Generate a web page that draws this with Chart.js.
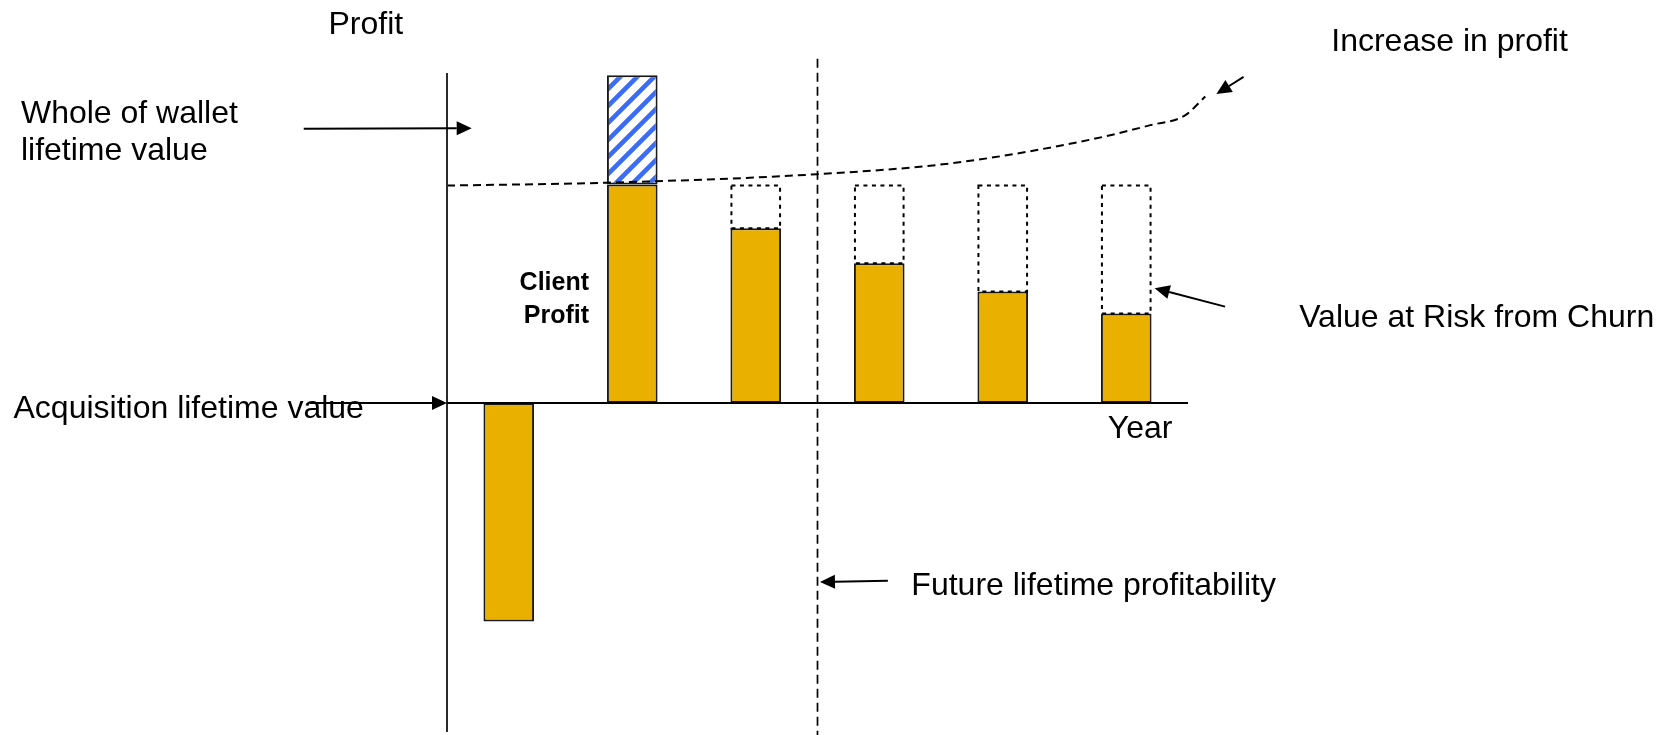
<!DOCTYPE html>
<html>
<head>
<meta charset="utf-8">
<title>Client lifetime value</title>
<script src="https://cdn.jsdelivr.net/npm/chart.js@4.4.1/dist/chart.umd.min.js"></script>
<style>
  html, body { margin: 0; padding: 0; background: #ffffff; }
  #wrap { width: 1674px; height: 735px; }
</style>
</head>
<body>
<div id="wrap"><canvas id="lifetimeChart" width="1674" height="735"></canvas></div>
<script>
// Values (one unit = first-year client profit / 100)
const periods = ['Acquisition', 'Year 1', 'Year 2', 'Year 3', 'Year 4', 'Year 5'];
const clientProfit = [-100, 100, 80, 64, 51, 41];
const walletIncrease = [null, 50, null, null, null, null];
const churnRisk = [null, null, 20, 36, 49, 59];

// whole-of-wallet curve, x in periods (-0.5 = profit axis)
const walletCurveX = [-0.5, 0.8, 2.5, 3.6, 4.7, 5.2, 5.47, 5.64];
const walletCurveY = [99.5, 100.8, 104.7, 109.8, 120.4, 127.2, 131.4, 140.2];

// boundary between past and future lifetime
const futureBoundaryX = [2.5, 2.5];
const futureBoundaryY = [157.5, -152];

const FONT = "'Liberation Sans', Arial, sans-serif";
const ORANGE = '#E9B000';

// text notes and arrows, positioned in chart units (x in periods, y in profit)
const notes = [
    { text: 'Profit', x: -1.46, y: 168.8 },
    { text: 'Whole of wallet', x: -3.95, y: 128.1 },
    { text: 'lifetime value', x: -3.95, y: 111.2 },
    { text: 'Increase in profit', x: 6.66, y: 161.1 },
    { text: 'Client', x: 0.65, y: 51.7, bold: true, align: 'right' },
    { text: 'Profit', x: 0.65, y: 36.4, bold: true, align: 'right' },
    { text: 'Value at Risk from Churn', x: 6.4, y: 34.8 },
    { text: 'Acquisition lifetime value', x: -4.01, y: -6.9 },
    { text: 'Year', x: 4.85, y: -16 },
    { text: 'Future lifetime profitability', x: 3.26, y: -87.9 }
];

const arrows = [
    { from: [-1.66, 125.5], to: [-0.3, 125.7] },
    { from: [-1.61, 0], to: [-0.5, 0] },
    { from: [3.07, -81.3], to: [2.52, -81.9] },
    { from: [5.8, 44.1], to: [5.23, 52.5] },
    { from: [5.95, 149.2], to: [5.73, 141.4] }
];

const ctx = document.getElementById('lifetimeChart').getContext('2d');

const makeStripes = () => {
    const tile = document.createElement('canvas');
    tile.width = 17;
    tile.height = 17;
    const g = tile.getContext('2d');
    g.fillStyle = '#ffffff';
    g.fillRect(0, 0, 17, 17);
    g.strokeStyle = '#3a6cf6';
    g.lineWidth = 4.6;
    g.beginPath();
    g.moveTo(-4, 21); g.lineTo(21, -4);
    g.moveTo(-4, 4); g.lineTo(4, -4);
    g.moveTo(13, 21); g.lineTo(21, 13);
    g.stroke();
    return ctx.createPattern(tile, 'repeat');
};

const toPoints = (xs, ys) => xs.map((x, i) => ({ x: x, y: ys[i] }));

const decorations = {
    id: 'decorations',
    afterDatasetsDraw(chart) {
        const c = chart.ctx;
        const area = chart.chartArea;
        const xs = chart.scales.x2;
        const ys = chart.scales.y;

        // dotted outlines for value lost to churn
        const riskMeta = chart.getDatasetMeta(3);
        c.save();
        c.strokeStyle = '#000';
        c.lineWidth = 2;
        c.setLineDash([4, 4.5]);
        riskMeta.data.forEach((bar, i) => {
            if (churnRisk[i] == null) return;
            const p = bar.getProps(['x', 'y', 'base', 'width'], true);
            c.strokeRect(p.x - p.width / 2 + 1, p.y + 1, p.width - 2, p.base - p.y - 1);
        });
        c.restore();

        // profit axis and year axis
        c.save();
        c.strokeStyle = '#2a2a2a';
        c.lineWidth = 2;
        c.beginPath();
        c.moveTo(area.left, area.top);
        c.lineTo(area.left, area.bottom - 1);
        c.stroke();
        c.strokeStyle = '#000';
        c.beginPath();
        c.moveTo(area.left, ys.getPixelForValue(0));
        c.lineTo(area.right, ys.getPixelForValue(0));
        c.stroke();
        c.restore();

        // arrows
        c.save();
        c.strokeStyle = '#000';
        c.fillStyle = '#000';
        c.lineWidth = 2;
        arrows.forEach(a => {
            const x0 = xs.getPixelForValue(a.from[0]);
            const y0 = ys.getPixelForValue(a.from[1]);
            const x1 = xs.getPixelForValue(a.to[0]);
            const y1 = ys.getPixelForValue(a.to[1]);
            const ang = Math.atan2(y1 - y0, x1 - x0);
            const len = 15, half = 7;
            const bx = x1 - len * Math.cos(ang);
            const by = y1 - len * Math.sin(ang);
            c.beginPath();
            c.moveTo(x0, y0);
            c.lineTo(bx, by);
            c.stroke();
            c.beginPath();
            c.moveTo(x1, y1);
            c.lineTo(bx + half * Math.sin(ang), by - half * Math.cos(ang));
            c.lineTo(bx - half * Math.sin(ang), by + half * Math.cos(ang));
            c.closePath();
            c.fill();
        });
        c.restore();

        // text notes
        c.save();
        c.fillStyle = '#000';
        c.textBaseline = 'alphabetic';
        notes.forEach(n => {
            c.font = n.bold ? 'bold 25px ' + FONT : '32px ' + FONT;
            c.textAlign = n.align || 'left';
            c.fillText(n.text, xs.getPixelForValue(n.x), ys.getPixelForValue(n.y));
        });
        c.restore();
    }
};

new Chart(ctx, {
    type: 'bar',
    data: {
        labels: periods,
        datasets: [
            {
                type: 'line',
                label: 'Whole of wallet lifetime value',
                data: toPoints(walletCurveX, walletCurveY),
                xAxisID: 'x2',
                stack: 'curve',
                borderColor: '#000',
                borderWidth: 2,
                borderDash: [8, 5],
                pointRadius: 0,
                cubicInterpolationMode: 'monotone',
                capBezierPoints: false,
                fill: false,
                clip: false,
                order: 0
            },
            {
                type: 'line',
                label: 'Future lifetime profitability',
                data: toPoints(futureBoundaryX, futureBoundaryY),
                xAxisID: 'x2',
                stack: 'boundary',
                borderColor: '#000',
                borderWidth: 1.7,
                borderDash: [9, 5],
                pointRadius: 0,
                fill: false,
                clip: false,
                order: 0
            },
            {
                label: 'Client profit',
                data: clientProfit,
                stack: 'profit',
                grouped: false,
                backgroundColor: ORANGE,
                borderColor: '#1a1a1a',
                borderWidth: 2,
                borderSkipped: false,
                categoryPercentage: 1,
                barPercentage: 0.41,
                order: 1
            },
            {
                label: 'Value at risk from churn',
                data: churnRisk,
                stack: 'profit',
                grouped: false,
                backgroundColor: 'rgba(0,0,0,0)',
                borderWidth: 0,
                categoryPercentage: 1,
                barPercentage: 0.41,
                order: 1
            },
            {
                label: 'Increase in profit',
                data: walletIncrease,
                stack: 'profit',
                grouped: false,
                backgroundColor: makeStripes(),
                borderColor: '#1a1a1a',
                borderWidth: 2,
                borderSkipped: false,
                categoryPercentage: 1,
                barPercentage: 0.41,
                order: 1
            }
        ]
    },
    options: {
        responsive: false,
        devicePixelRatio: 1,
        animation: false,
        events: [],
        layout: {
            padding: { left: 447, right: 486, top: 73, bottom: 2 }
        },
        scales: {
            x: { display: false, stacked: true },
            x2: { type: 'linear', display: false, offset: false, min: -0.5, max: 5.5 },
            y: { display: false, stacked: true, min: -151, max: 151 }
        },
        plugins: {
            legend: { display: false },
            tooltip: { enabled: false }
        }
    },
    plugins: [decorations]
});
</script>
</body>
</html>
